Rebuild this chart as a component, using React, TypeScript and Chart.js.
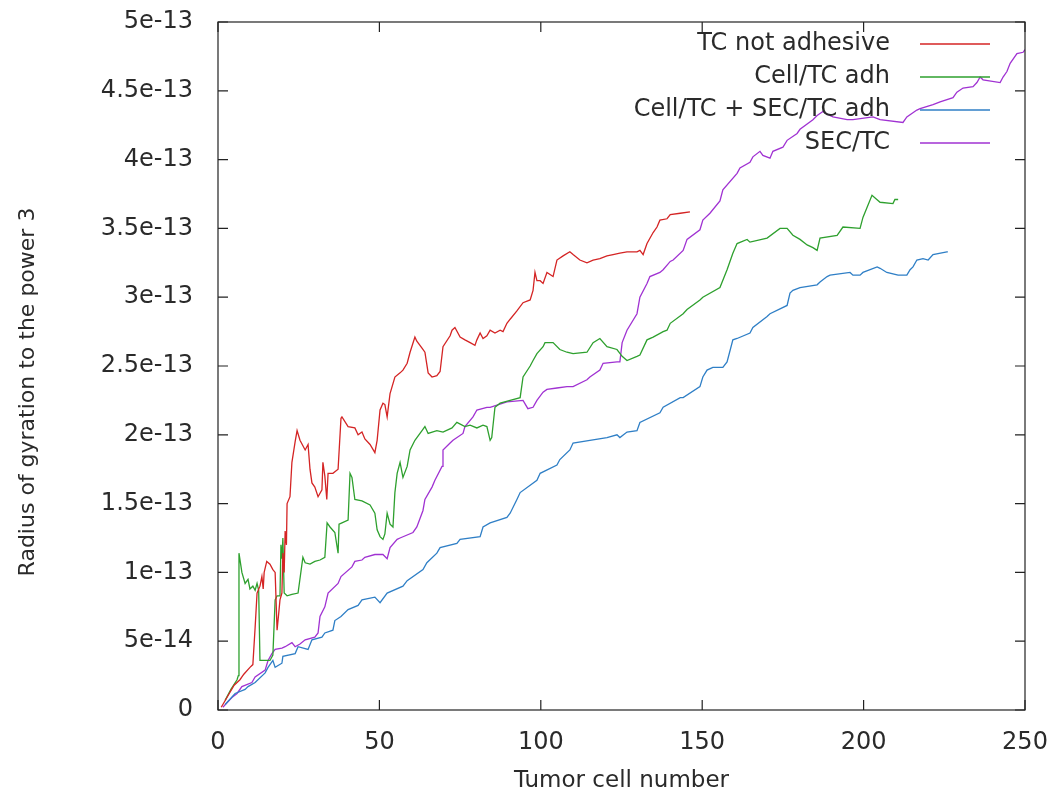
import React, { useEffect, useRef } from "react";
import { Chart, registerables } from "chart.js";

Chart.register(...registerables);

// ---- data (y values in units of 1e-13) ----
const xTickValues = [0, 50, 100, 150, 200, 250];
const yTickLabels = ["0", "5e-14", "1e-13", "1.5e-13", "2e-13", "2.5e-13", "3e-13", "3.5e-13", "4e-13", "4.5e-13", "5e-13"];
const seriesNames = ["TC not adhesive", "Cell/TC adh", "Cell/TC + SEC/TC adh", "SEC/TC"];
const seriesColors = ["#d42424", "#2ea02e", "#2f7fc6", "#a032d2"];
const xTitle = "Tumor cell number";
const yTitle = "Radius of gyration to the power 3";

const tcNotAdhesive: number[][] = [
  [1, 0.02], [3, 0.1], [5, 0.18], [6.8, 0.22], [8, 0.26], [9.9, 0.31], [10.8, 0.33], [11.5, 0.6], [12.1, 0.85], [13, 0.9],
  [13.6, 0.97], [14, 0.88], [14.3, 1.0], [15.1, 1.08], [16.1, 1.06], [17, 1.02], [17.7, 1.0], [18.3, 0.58], [18.8, 0.7], [19.2, 0.8],
  [19.8, 0.85], [20.1, 1.14], [20.5, 1.0], [20.8, 1.3], [21.2, 1.2], [21.4, 1.5], [22.3, 1.55], [22.9, 1.8], [23.9, 1.95], [24.5, 2.03],
  [25.4, 1.96], [27, 1.89], [27.9, 1.93], [28.5, 1.75], [29.1, 1.65], [30, 1.62], [31, 1.55], [32.2, 1.6], [32.5, 1.8], [33.1, 1.7],
  [33.7, 1.53], [34.1, 1.72], [35.6, 1.72], [37.2, 1.75], [38.1, 2.12], [38.4, 2.13], [40.3, 2.06], [42.4, 2.05], [43.4, 2.0], [44.6, 2.02],
  [45.5, 1.97], [47.1, 1.93], [48.6, 1.87], [49.3, 1.96], [50.2, 2.18], [51.1, 2.23], [51.7, 2.22], [52.4, 2.13], [53.3, 2.3], [54.8, 2.42],
  [56.4, 2.45], [57.3, 2.47], [58.6, 2.52], [59.5, 2.6], [61, 2.71], [61.6, 2.68], [63.2, 2.63], [64.1, 2.6], [65.1, 2.45], [66.3, 2.42],
  [67.8, 2.43], [68.8, 2.46], [69.7, 2.64], [71.9, 2.72], [72.5, 2.76], [73.4, 2.78], [75, 2.71], [76.5, 2.69], [78.1, 2.67], [79.6, 2.65],
  [80.2, 2.69], [81.2, 2.74], [82.1, 2.7], [83.3, 2.72], [84.3, 2.76], [85.8, 2.74], [87.4, 2.76], [88.3, 2.75], [89.5, 2.81], [90.5, 2.84],
  [92.6, 2.9], [94.5, 2.96], [96.7, 2.98], [97.6, 3.05], [98.2, 3.18], [98.8, 3.12], [99.8, 3.12], [100.7, 3.1], [101.9, 3.18], [103.8, 3.15],
  [105, 3.27], [106.9, 3.3], [109, 3.33], [110, 3.31], [112.1, 3.27], [114.3, 3.25], [116.2, 3.27], [118.3, 3.28], [120.5, 3.3], [122.4, 3.31],
  [124.5, 3.32], [126.7, 3.33], [129.8, 3.33], [130.7, 3.34], [131.7, 3.31], [132.9, 3.39], [134.8, 3.47], [136, 3.51], [136.9, 3.56], [139.1, 3.57],
  [140.1, 3.6], [143.2, 3.61], [146.2, 3.62],
];

const cellTcAdh: number[][] = [
  [2.2, 0.07], [4, 0.15], [5.9, 0.22], [6.3, 0.25], [6.5, 1.14], [7.4, 1.0], [8.4, 0.92], [9.3, 0.95], [9.9, 0.88], [10.8, 0.9],
  [11.5, 0.87], [12.1, 0.92], [12.6, 0.87], [13, 0.36], [14.6, 0.36], [16.1, 0.36], [17, 0.4], [17.7, 0.8], [18.3, 0.83], [19.2, 0.83],
  [19.5, 1.2], [19.8, 1.1], [20.1, 1.25], [20.5, 0.85], [21.4, 0.83], [22.9, 0.84], [24.8, 0.85], [26.3, 1.11], [27, 1.07], [28.5, 1.06],
  [30, 1.08], [31.6, 1.09], [33.1, 1.11], [33.8, 1.36], [34.7, 1.33], [36.2, 1.29], [37.2, 1.14], [37.5, 1.35], [38.4, 1.36], [40.3, 1.38],
  [40.9, 1.72], [41.5, 1.69], [42.4, 1.53], [44.6, 1.52], [47.1, 1.49], [48.6, 1.43], [49.3, 1.31], [50.2, 1.26], [51.1, 1.24], [51.7, 1.28],
  [52.4, 1.43], [53.3, 1.35], [54.2, 1.33], [54.8, 1.58], [55.5, 1.72], [56.4, 1.8], [57.3, 1.69], [58.6, 1.77], [59.5, 1.89], [61, 1.96],
  [63.2, 2.03], [64.1, 2.06], [65.1, 2.01], [67.8, 2.03], [69.7, 2.02], [72.5, 2.05], [74, 2.09], [76.5, 2.06], [78.1, 2.07], [80.2, 2.05],
  [82.1, 2.07], [83.3, 2.06], [84.3, 1.96], [84.8, 1.98], [85.8, 2.2], [87.4, 2.23], [90.5, 2.25], [93.6, 2.27], [94.5, 2.42], [96.7, 2.5],
  [97.6, 2.54], [98.8, 2.59], [100.7, 2.64], [101.3, 2.67], [103.8, 2.67], [105.9, 2.62], [108.1, 2.6], [110, 2.59], [114.3, 2.6], [116.2, 2.67],
  [118.3, 2.7], [120.5, 2.64], [123.6, 2.62], [125.2, 2.57], [126.7, 2.54], [129.8, 2.57], [130.7, 2.58], [132.9, 2.69], [134.8, 2.71], [137.9, 2.75],
  [139.1, 2.76], [140.1, 2.81], [144.1, 2.88], [145.3, 2.91], [149.3, 2.98], [150.2, 3.0], [155.5, 3.07], [157.7, 3.2], [159.5, 3.32], [160.8, 3.39],
  [163.9, 3.42], [164.8, 3.4], [170.1, 3.43], [174.1, 3.5], [176.3, 3.5], [178.1, 3.45], [180.3, 3.42], [182.5, 3.38], [184.3, 3.36], [185.6, 3.34],
  [186.5, 3.43], [191.8, 3.45], [193.6, 3.51], [198.9, 3.5], [199.8, 3.58], [202.6, 3.74], [205.1, 3.69], [209.1, 3.68], [209.7, 3.71], [210.7, 3.71],
];

const cellTcSecTcAdh: number[][] = [
  [2.2, 0.04], [5.3, 0.12], [8.4, 0.15], [9.3, 0.17], [11.5, 0.2], [14.6, 0.27], [15.5, 0.31], [17, 0.36], [17.7, 0.31], [19.8, 0.34],
  [20.1, 0.39], [23.9, 0.41], [24.8, 0.46], [27.9, 0.44], [29.1, 0.51], [32.2, 0.53], [33.1, 0.56], [35.6, 0.58], [36.2, 0.65], [38.1, 0.68],
  [40.3, 0.73], [43.4, 0.76], [44.6, 0.8], [48.6, 0.82], [50.2, 0.78], [52.4, 0.85], [57.3, 0.9], [58.6, 0.94], [63.5, 1.02], [64.7, 1.07],
  [67.8, 1.14], [68.8, 1.18], [74, 1.21], [75, 1.24], [81.2, 1.26], [82.1, 1.33], [84.3, 1.36], [89.5, 1.4], [90.5, 1.43], [92.6, 1.53],
  [93.6, 1.58], [98.8, 1.67], [99.8, 1.72], [105, 1.78], [105.9, 1.82], [109, 1.89], [110, 1.94], [115.2, 1.96], [120.5, 1.98], [123.6, 2.0],
  [124.5, 1.98], [126.7, 2.02], [129.8, 2.03], [130.7, 2.09], [136.9, 2.16], [137.9, 2.2], [143.2, 2.27], [144.1, 2.27], [149.3, 2.35], [150.2, 2.42],
  [151.5, 2.47], [153.3, 2.49], [156.4, 2.49], [157.7, 2.53], [159.5, 2.69], [160.8, 2.7], [164.8, 2.74], [165.7, 2.78], [170.1, 2.86], [171, 2.88],
  [176.3, 2.94], [177.2, 3.03], [178.1, 3.05], [180.3, 3.07], [185.6, 3.09], [186.5, 3.11], [188.7, 3.15], [189.6, 3.16], [195.8, 3.18], [196.7, 3.16],
  [198.9, 3.16], [199.8, 3.18], [204.2, 3.22], [205.1, 3.21], [207.2, 3.18], [209.1, 3.17], [210.7, 3.16], [213.4, 3.16], [214.4, 3.2], [215.3, 3.22],
  [216.5, 3.27], [218.4, 3.28], [220, 3.27], [221.5, 3.31], [225.8, 3.33], [226.1, 3.33],
];

const secTc: number[][] = [
  [1.5, 0.02], [4.3, 0.09], [5.9, 0.12], [7.4, 0.17], [10.5, 0.2], [11.5, 0.24], [14.6, 0.29], [15.5, 0.36], [16.7, 0.41], [17.7, 0.44],
  [19.8, 0.45], [20.8, 0.46], [22.9, 0.49], [23.9, 0.46], [25.4, 0.48], [27, 0.51], [30, 0.53], [31, 0.56], [31.6, 0.68], [33.1, 0.75],
  [34.1, 0.85], [37.2, 0.92], [38.1, 0.97], [41.5, 1.04], [42.4, 1.08], [44.6, 1.09], [45.5, 1.11], [48.6, 1.13], [51.1, 1.13], [52.4, 1.1],
  [53.3, 1.18], [55.5, 1.24], [56.4, 1.25], [60.4, 1.29], [61.6, 1.33], [63.5, 1.45], [64.1, 1.53], [66.3, 1.62], [67.2, 1.67], [69.4, 1.77],
  [69.7, 1.89], [71.9, 1.94], [72.8, 1.96], [75.9, 2.01], [76.5, 2.06], [79, 2.13], [80.2, 2.18], [83.3, 2.2], [84.3, 2.2], [88.3, 2.23],
  [89.5, 2.24], [94.5, 2.25], [96, 2.19], [97.6, 2.2], [98.8, 2.25], [100.7, 2.31], [101.9, 2.33], [105, 2.34], [108.1, 2.35], [110, 2.35],
  [114.3, 2.4], [115.2, 2.42], [118.3, 2.47], [119.3, 2.52], [123.6, 2.53], [124.5, 2.53], [125.2, 2.67], [126.7, 2.76], [129.8, 2.88], [130.7, 3.0],
  [132.9, 3.1], [133.8, 3.15], [136.9, 3.18], [137.9, 3.2], [140.1, 3.26], [141, 3.27], [144.1, 3.34], [145.3, 3.42], [149.3, 3.49], [150.2, 3.56],
  [152.4, 3.61], [155.5, 3.7], [156.4, 3.78], [160.8, 3.9], [161.7, 3.94], [164.8, 3.98], [165.7, 4.02], [167.9, 4.06], [168.8, 4.03], [171, 4.01],
  [171.9, 4.06], [175, 4.09], [176.3, 4.14], [179.4, 4.19], [180.3, 4.22], [184.3, 4.29], [185.6, 4.32], [187.4, 4.35], [188.7, 4.33], [190.5, 4.31],
  [194.9, 4.29], [196.7, 4.29], [202.9, 4.31], [205.1, 4.29], [212.2, 4.27], [213.4, 4.31], [216.5, 4.36], [217.5, 4.37], [221.5, 4.4], [223.7, 4.42],
  [227.7, 4.45], [228.9, 4.49], [230.8, 4.52], [233.9, 4.53], [235.1, 4.56], [236.1, 4.6], [237, 4.58], [242.3, 4.56], [243.2, 4.6], [244.4, 4.64],
  [245.4, 4.7], [247.5, 4.77], [249.4, 4.78], [250, 4.8],
];

const allSeries = [tcNotAdhesive, cellTcAdh, cellTcSecTcAdh, secTc];

const FONT = '"DejaVu Sans", "Liberation Sans", sans-serif';
const TEXT_COLOR = "#2a2a2a";

const framePlugin = {
  id: "gnuFrame",
  afterDatasetsDraw(chart: any) {
    const { ctx, chartArea, scales } = chart;
    const { left, right, top, bottom } = chartArea;
    const tl = 10;
    ctx.save();
    ctx.strokeStyle = "#222";
    ctx.lineWidth = 1.2;
    ctx.strokeRect(left, top, right - left, bottom - top);
    ctx.beginPath();
    xTickValues.forEach((v) => {
      const px = scales.x.getPixelForValue(v);
      ctx.moveTo(px, bottom);
      ctx.lineTo(px, bottom - tl);
      ctx.moveTo(px, top);
      ctx.lineTo(px, top + tl);
    });
    yTickLabels.forEach((_, i) => {
      const py = scales.y.getPixelForValue(i * 0.5);
      ctx.moveTo(left, py);
      ctx.lineTo(left + tl, py);
      ctx.moveTo(right, py);
      ctx.lineTo(right - tl, py);
    });
    ctx.stroke();

    // y-axis title (gnuplot centres it on the canvas height)
    ctx.save();
    ctx.font = `22px ${FONT}`;
    ctx.fillStyle = TEXT_COLOR;
    ctx.textAlign = "center";
    ctx.textBaseline = "middle";
    ctx.translate(28, 392);
    ctx.rotate(-Math.PI / 2);
    ctx.fillText(yTitle, 0, 0);
    ctx.restore();

    // legend (gnuplot style, top right inside)
    ctx.font = `24px ${FONT}`;
    ctx.textAlign = "right";
    ctx.textBaseline = "middle";
    seriesNames.forEach((name, i) => {
      const y = top + 22 + i * 33;
      ctx.fillStyle = TEXT_COLOR;
      ctx.fillText(name, right - 135, y);
      ctx.strokeStyle = seriesColors[i];
      ctx.lineWidth = 1.3;
      ctx.beginPath();
      ctx.moveTo(right - 105, y);
      ctx.lineTo(right - 35, y);
      ctx.stroke();
    });
    ctx.restore();
  },
};

export default function App() {
  const canvasRef = useRef<HTMLCanvasElement | null>(null);

  useEffect(() => {
    document.body.style.margin = "0";
    const canvas = canvasRef.current;
    if (!canvas) return;
    const chart = new Chart(canvas, {
      type: "line",
      data: {
        datasets: allSeries.map((s, i) => ({
          label: seriesNames[i],
          data: s.map(([x, y]) => ({ x, y })),
          borderColor: seriesColors[i],
          backgroundColor: seriesColors[i],
          borderWidth: 1.3,
          pointRadius: 0,
          tension: 0,
          fill: false,
        })),
      },
      options: {
        animation: false,
        responsive: false,
        maintainAspectRatio: false,
        devicePixelRatio: 1,
        layout: { padding: { top: 22, right: 30, left: 0, bottom: 0 } },
        plugins: { legend: { display: false }, tooltip: { enabled: false } },
        scales: {
          x: {
            type: "linear",
            min: 0,
            max: 250,
            grid: { display: false, drawTicks: false },
            border: { display: false },
            ticks: {
              stepSize: 50,
              padding: 18,
              color: TEXT_COLOR,
              font: { family: FONT, size: 24 },
              maxRotation: 0,
              callback: (v: any) => String(v),
            },
            title: {
              display: true,
              text: xTitle,
              color: TEXT_COLOR,
              font: { family: FONT, size: 23 },
              padding: { top: 0, bottom: 6 },
            },
            afterFit: (scale: any) => {
              scale.height = 91;
              scale.paddingLeft = 0;
              scale.paddingRight = 0;
            },
          },
          y: {
            type: "linear",
            min: 0,
            max: 5,
            grid: { display: false, drawTicks: false },
            border: { display: false },
            ticks: {
              stepSize: 0.5,
              padding: 25,
              color: TEXT_COLOR,
              font: { family: FONT, size: 24 },
              callback: (v: any) => yTickLabels[Math.round(Number(v) * 2)],
            },
            title: { display: false },
            afterFit: (scale: any) => {
              scale.width = 218;
              scale.paddingTop = 0;
              scale.paddingBottom = 0;
            },
          },
        },
      },
      plugins: [framePlugin],
    });
    return () => chart.destroy();
  }, []);

  return (
    <div style={{ width: 1055, height: 801, background: "#fff" }}>
      <canvas ref={canvasRef} width={1055} height={801} style={{ display: "block" }} />
    </div>
  );
}
